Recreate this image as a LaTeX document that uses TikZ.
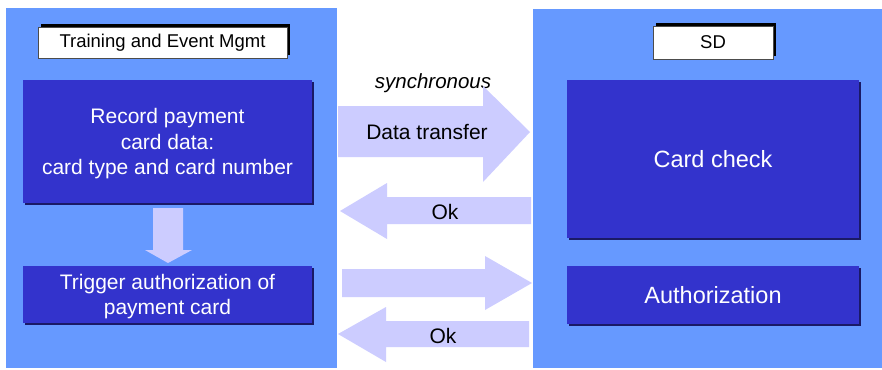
\documentclass[tikz,border=0pt]{standalone}
\usepackage{fontspec}
\setmainfont{Liberation Sans}
\definecolor{panelcol}{HTML}{6699FF}
\definecolor{boxcol}{HTML}{3333CC}
\definecolor{arrowcol}{HTML}{CCCCFF}
\definecolor{shadowcol}{HTML}{1A1A66}
\tikzset{
  panel/.style={fill=panelcol},
  bluebox/.style={fill=boxcol, draw=none, text=white, align=center, inner sep=0pt, text depth=0pt,
    preaction={fill=shadowcol, transform canvas={xshift=1.5pt, yshift=-1.5pt}},
    font=\fontsize{21}{25.5}\selectfont},
  bigtext/.style={font=\fontsize{23.5}{28}\selectfont},
  titlebox/.style={fill=white, draw=black!70, line width=0.8pt, text=black, inner sep=0pt,
    preaction={fill=black, transform canvas={xshift=3pt, yshift=3pt}},
    font=\fontsize{18.5}{22}\selectfont},
  blockarrow/.style={fill=arrowcol, draw=none},
  arrowlabel/.style={text=black, inner sep=0pt, font=\fontsize{21}{25}\selectfont}
}
\begin{document}
\begin{tikzpicture}[x=1pt,y=-1pt]
\useasboundingbox (0,0) rectangle (882,369);
\fill[white] (0,0) rectangle (882,369);
% panels
\fill[panel] (6,8) rectangle (337,368);
\fill[panel] (533,9) rectangle (882,368);
% titles
\node[titlebox, minimum width=249pt, minimum height=31pt] (tem) at (162.5,42.5) {Training and Event Mgmt};
\node[titlebox, minimum width=120pt, minimum height=33pt] (sd) at (713,42.5) {SD};
% left boxes
\node[bluebox, minimum width=289pt, minimum height=123pt] (rec) at (167.5,141.5)
  {Record payment\\card data:\\card type and card number};
\node[bluebox, minimum width=289pt, minimum height=57pt] (trig) at (167.5,294.5)
  {Trigger authorization of\\payment card};
% right boxes
\node[bluebox, bigtext, minimum width=292pt, minimum height=158pt] (card) at (713,159) {Card check};
\node[bluebox, bigtext, minimum width=292pt, minimum height=58pt] (auth) at (713,295) {Authorization};
% down arrow between left boxes
\fill[blockarrow] (153,208) -- (183,208) -- (183,250) -- (192,250) -- (168,263) -- (145,250) -- (153,250) -- cycle;
% synchronous label (partly covered by arrow head)
\node[arrowlabel, font=\fontsize{20.5}{24}\selectfont\itshape] (sync) at (433,83) {synchronous};
% arrow 1: data transfer
\fill[blockarrow] (338,106) -- (483,106) -- (483,86) -- (530,132) -- (483,182) -- (483,157) -- (338,157) -- cycle;
\node[arrowlabel] (dt) at (427,132) {Data transfer};
% arrow 2: Ok (left)
\fill[blockarrow] (531,197) -- (387,197) -- (387,183) -- (340,211) -- (387,239) -- (387,224) -- (531,224) -- cycle;
\node[arrowlabel] (ok1) at (445,212) {Ok};
% arrow 3: right
\fill[blockarrow] (342,269) -- (485,269) -- (485,256) -- (532,283) -- (485,310) -- (485,297) -- (342,297) -- cycle;
% arrow 4: Ok (left)
\fill[blockarrow] (529,321) -- (386,321) -- (386,307) -- (338,334) -- (386,362) -- (386,347) -- (529,347) -- cycle;
\node[arrowlabel] (ok2) at (443,336) {Ok};
\end{tikzpicture}
\end{document}
